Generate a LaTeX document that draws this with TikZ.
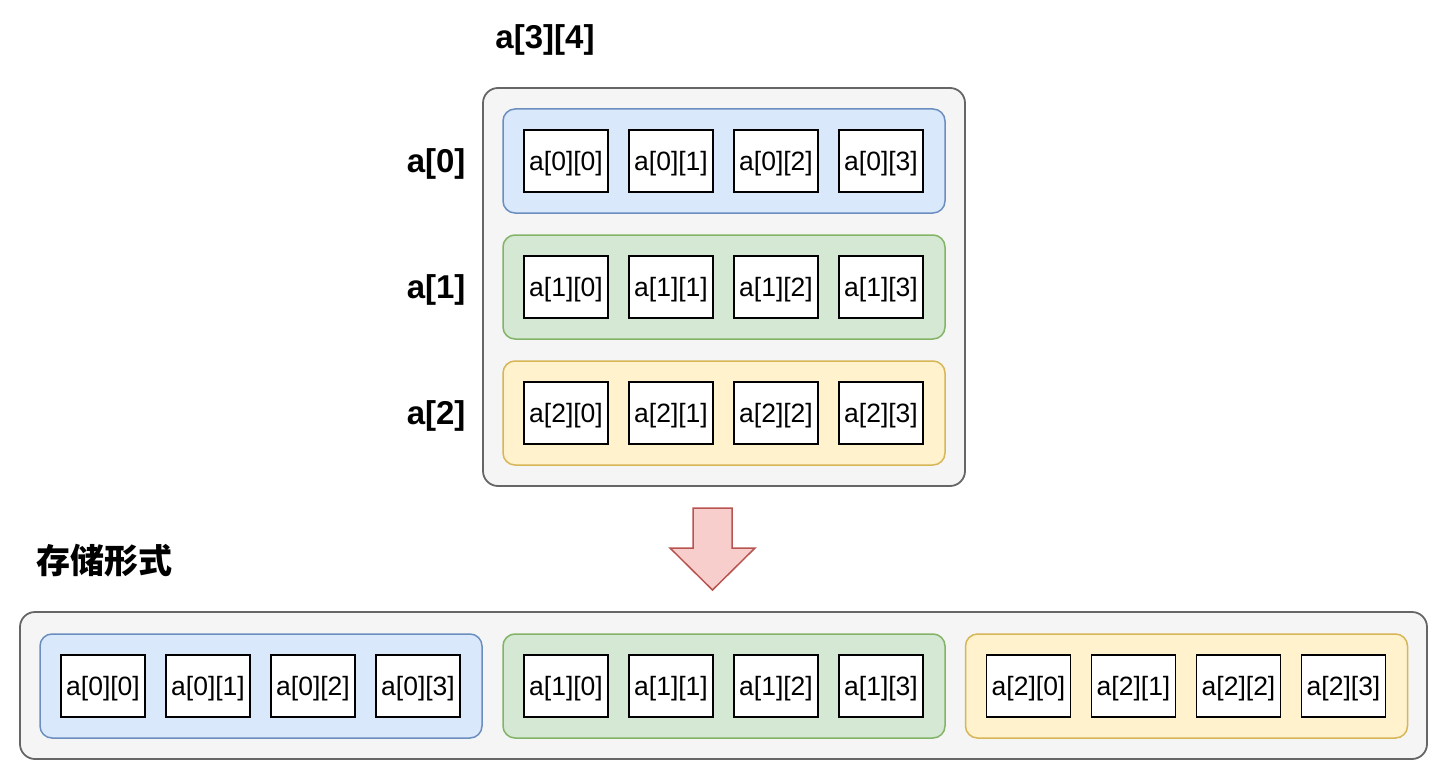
\documentclass[tikz,border=0pt]{standalone}
\usepackage{fontspec}
\setmainfont{Liberation Sans}
\newfontfamily\cjk{Noto Sans CJK SC}
\usepackage{tikz}
\usepackage{xcolor}
\definecolor{outerfill}{HTML}{F5F5F5}
\definecolor{outerline}{HTML}{666666}
\definecolor{bluefill}{HTML}{DAE8FC}
\definecolor{blueline}{HTML}{6C8EBF}
\definecolor{greenfill}{HTML}{D5E8D4}
\definecolor{greenline}{HTML}{82B366}
\definecolor{yellowfill}{HTML}{FFF2CC}
\definecolor{yellowline}{HTML}{D6B656}
\definecolor{redfill}{HTML}{F8CECC}
\definecolor{redline}{HTML}{B85450}

\tikzset{
  outerbox/.style={draw=outerline, fill=outerfill, line width=1.8pt, rounded corners=15pt},
  rowbox/.style={rounded corners=12pt, line width=1.5pt, minimum width=442pt, minimum height=104pt},
  cell/.style={draw=black, fill=white, line width=1.8pt, minimum width=84pt, minimum height=62pt,
    inner sep=0pt, text height=21pt, text depth=3pt, font=\fontsize{26.5}{30}\selectfont},
  rowlabel/.style={font=\fontsize{33}{38}\selectfont\bfseries},
}

\begin{document}
\begin{tikzpicture}[x=1pt, y=-1pt]
  \useasboundingbox (0,0) rectangle (1448,781);

  % the array a[3][4]
  \node[rowlabel] (title) at (545,40) {a[3][4]};
  \node[outerbox, minimum width=482pt, minimum height=398pt] (outer) at (724,287) {};
  \foreach \r/\y/\c in {0/161/blue, 1/287/green, 2/413/yellow} {
    \node[rowbox, draw=\c line, fill=\c fill] (row\r) at (724,\y) {};
    \node[rowlabel, anchor=east] (lab\r) at (469,\y+3) {a[\r]};
    \foreach \k/\dx in {0/-158, 1/-53, 2/52, 3/157}
      \node[cell] (a\r\k) at (724+\dx,\y) {a[\r][\k]};
  }

  % arrow down
  \draw[draw=redline, fill=redfill, line width=1.5pt, line join=miter]
    (693,508) -- (732,508) -- (732,548) -- (755,548) -- (712.5,590)
    -- (670,548) -- (693,548) -- cycle;

  % how it is stored
  \node[font=\fontsize{34}{40}\selectfont\cjk\bfseries] (store) at (104,561) {存储形式};
  \node[outerbox, minimum width=1407pt, minimum height=147pt] (line) at (723.5,685.5) {};
  \foreach \r/\x/\c in {0/261/blue, 1/724/green, 2/1186.5/yellow} {
    \node[rowbox, draw=\c line, fill=\c fill] (mem\r) at (\x,686) {};
    \foreach \k/\dx in {0/-158, 1/-53, 2/52, 3/157}
      \node[cell] (m\r\k) at (\x+\dx,686) {a[\r][\k]};
  }
\end{tikzpicture}
\end{document}
